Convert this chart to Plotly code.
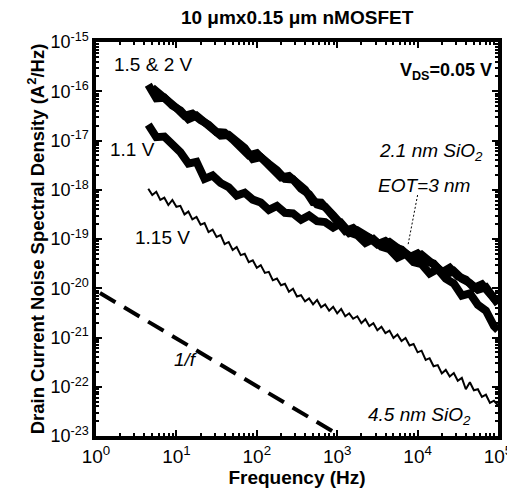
import plotly.graph_objects as go

# ---------------- data ----------------
freq_a = [4.47, 5.62, 7.08, 8.91, 11.2, 14.1, 17.8, 22.4, 28.2, 35.5, 44.7, 56.2, 70.8, 89.1,
          112, 141, 178, 224, 282, 355, 447, 562, 708, 891, 1120, 1410, 1780, 2240, 2820,
          3550, 4470, 5620, 7080, 8910, 11200, 14100, 17800, 22400, 28200, 35500, 44700,
          56200, 70800, 89100, 100000]
freq_b = [5.01, 6.31, 7.94, 10, 12.6, 15.8, 20, 25.1, 31.6, 39.8, 50.1, 63.1, 79.4, 100,
          126, 158, 200, 251, 316, 398, 501, 631, 794, 1000, 1260, 1580, 2000, 2510, 3160,
          3980, 5010, 6310, 7940, 10000, 12600, 15800, 20000, 25100, 31600, 39800, 50100,
          63100, 79400, 100000]
freq_fine = [4.47, 5.01, 5.62, 6.31, 7.08, 7.94, 8.91, 10, 11.2, 12.6, 14.1, 15.8, 17.8, 20,
             22.4, 25.1, 28.2, 31.6, 35.5, 39.8, 44.7, 50.1, 56.2, 63.1, 70.8, 79.4, 89.1, 100,
             112, 126, 141, 158, 178, 200, 224, 251, 282, 316, 355, 398, 447, 501, 562, 631,
             708, 794, 891, 1000, 1120, 1260, 1410, 1580, 1780, 2000, 2240, 2510, 2820, 3160,
             3550, 3980, 4470, 5010, 5620, 6310, 7080, 7940, 8910, 10000, 11200, 12600, 14100,
             15800, 17800, 20000, 22400, 25100, 28200, 31600, 35500, 39800, 44700, 50100,
             56200, 63100, 70800, 79400, 89100, 100000]

# 2.1 nm SiO2 (EOT = 3 nm), VG = 1.5 V
psd_15v = [1.35e-16, 7.2e-17, 7.4e-17, 5.1e-17, 4.1e-17, 2.7e-17, 3.2e-17, 2.3e-17, 1.7e-17,
           1.26e-17, 1.3e-17, 9.6e-18, 7.0e-18, 4.2e-18, 4.6e-18, 3.35e-18, 2.5e-18, 1.66e-18,
           1.62e-18, 1.05e-18, 8.1e-19, 5.0e-19, 4.5e-19, 3.05e-19, 2.1e-19, 1.32e-19, 1.5e-19,
           1.13e-19, 9.5e-20, 7.4e-20, 8.7e-20, 6.6e-20, 5.2e-20, 4.0e-20, 4.8e-20, 3.5e-20,
           2.8e-20, 1.9e-20, 2.24e-20, 1.56e-20, 1.28e-20, 9.3e-21, 1.05e-20, 6.2e-21, 4.8e-21]
# VG = 2 V
psd_2v = [1.17e-16, 8.7e-17, 6.2e-17, 4.6e-17, 3.16e-17, 3.5e-17, 2.6e-17, 2.1e-17, 1.48e-17,
          1.45e-17, 1.05e-17, 7.5e-18, 5.0e-18, 5.5e-18, 3.8e-18, 2.9e-18, 1.78e-18, 1.9e-18,
          1.35e-18, 1.0e-18, 5.6e-19, 5.5e-19, 3.6e-19, 2.4e-19, 1.45e-19, 1.66e-19, 1.2e-19,
          1.06e-19, 7.8e-20, 9.1e-20, 6.9e-20, 6.1e-20, 4.3e-20, 5.1e-20, 3.6e-20, 3.2e-20,
          2.1e-20, 2.6e-20, 1.75e-20, 1.5e-20, 1.02e-20, 1.2e-20, 7.6e-21, 5.0e-21]
# VG = 1.1 V
psd_11v = [2.1e-17, 1.17e-17, 1.2e-17, 8.3e-18, 5.8e-18, 3.4e-18, 3.7e-18, 1.66e-18, 1.95e-18,
           1.37e-18, 1.12e-18, 7.6e-19, 8.7e-19, 6.3e-19, 5.5e-19, 3.9e-19, 4.7e-19, 3.4e-19,
           3.3e-19, 2.45e-19, 3.0e-19, 2.3e-19, 2.2e-19, 1.7e-19, 2.1e-19, 1.37e-19, 1.2e-19,
           8.3e-20, 1.0e-19, 7.0e-20, 6.2e-20, 4.2e-20, 5.0e-20, 3.4e-20, 3.1e-20, 2.0e-20,
           2.45e-20, 1.56e-20, 1.25e-20, 7.1e-21, 7.9e-21, 4.6e-21, 3.5e-21, 1.7e-21, 1.4e-21]
# 4.5 nm SiO2, VG = 1.15 V
psd_115v = [1.05e-18, 7.8e-19, 9.1e-19, 6.2e-19, 6.9e-19, 4.9e-19, 6.2e-19, 4.5e-19, 4.7e-19,
            3.16e-19, 3.6e-19, 2.5e-19, 2.8e-19, 1.95e-19, 2.1e-19, 1.38e-19, 1.55e-19, 1.1e-19,
            1.2e-19, 7.9e-20, 8.7e-20, 6.0e-20, 6.9e-20, 4.7e-20, 5.0e-20, 3.4e-20, 3.7e-20,
            2.6e-20, 2.95e-20, 2.05e-20, 2.15e-20, 1.45e-20, 1.58e-20, 1.15e-20, 1.23e-20,
            8.5e-21, 9.8e-21, 6.8e-21, 7.2e-21, 5.4e-21, 6.2e-21, 4.7e-21, 5.8e-21, 4.1e-21,
            4.7e-21, 3.5e-21, 4.2e-21, 3.1e-21, 3.8e-21, 2.7e-21, 3.1e-21, 2.4e-21, 2.7e-21,
            1.95e-21, 2.35e-21, 1.7e-21, 1.95e-21, 1.41e-21, 1.66e-21, 1.23e-21, 1.38e-21,
            9.8e-22, 1.15e-21, 8.5e-22, 9.8e-22, 6.9e-22, 7.4e-22, 5.0e-22, 5.4e-22, 3.5e-22,
            3.8e-22, 2.6e-22, 2.75e-22, 1.86e-22, 2.2e-22, 1.62e-22, 1.9e-22, 1.32e-22, 1.51e-22,
            8.9e-23, 1.23e-22, 8.5e-23, 8.9e-23, 6.2e-23, 6.9e-23, 4.7e-23, 5.2e-23, 4.2e-23]

# 1/f reference line
ref_freq = [1.12, 1000]
ref_psd = [8.0e-21, 1.1e-23]

# leader line from "EOT=3 nm" to the curves
leader_freq = [1.0e4, 7.6e3]
leader_psd = [7.8e-19, 7.6e-20]

x_tick_exp = [0, 1, 2, 3, 4, 5]
y_tick_exp = [-23, -22, -21, -20, -19, -18, -17, -16, -15]

# ---------------- figure ----------------
FONT = "Liberation Sans, Arial, sans-serif"
fig = go.Figure()

for fx, sy in [(freq_a, psd_15v), (freq_b, psd_2v), (freq_a, psd_11v)]:
    fig.add_trace(go.Scatter(x=fx, y=sy, mode="lines",
                             line=dict(color="black", width=8), showlegend=False))
fig.add_trace(go.Scatter(x=freq_fine, y=psd_115v, mode="lines",
                         line=dict(color="black", width=2), showlegend=False))
fig.add_trace(go.Scatter(x=ref_freq, y=ref_psd, mode="lines",
                         line=dict(color="black", width=4, dash="18px,10px"), showlegend=False))
fig.add_trace(go.Scatter(x=leader_freq, y=leader_psd, mode="lines",
                         line=dict(color="black", width=1, dash="2px,2px"), showlegend=False))

minor_x = [m * 10 ** e for e in range(0, 5) for m in range(2, 10)]
minor_y = [m * 10.0 ** e for e in range(-23, -15) for m in range(2, 10)]

fig.update_xaxes(
    type="log", range=[0, 5], automargin=False,
    tickmode="array", tickvals=[10 ** e for e in x_tick_exp],
    ticktext=[f"10<sup>{e}</sup>" for e in x_tick_exp],
    ticks="inside", ticklen=6, tickwidth=1.5, tickcolor="black",
    ticklabeloverflow="allow",
    minor=dict(tickmode="array", tickvals=minor_x, ticks="inside", ticklen=3,
               tickcolor="black", showgrid=False),
    showline=True, linewidth=3.5, linecolor="black", mirror="ticks",
    showgrid=False, zeroline=False,
    tickfont=dict(family=FONT, size=19, color="black"),
    title=dict(text="<b>Frequency (Hz)</b>", font=dict(family=FONT, size=19, color="black"),
               standoff=4),
)
fig.update_yaxes(
    type="log", range=[-23, -15], automargin=False,
    tickmode="array", tickvals=[10.0 ** e for e in y_tick_exp],
    ticktext=[f"10<sup>{e}</sup>" for e in y_tick_exp],
    ticks="inside", ticklen=6, tickwidth=1.5, tickcolor="black",
    ticklabeloverflow="allow",
    minor=dict(tickmode="array", tickvals=minor_y, ticks="inside", ticklen=3,
               tickcolor="black", showgrid=False),
    showline=True, linewidth=3.5, linecolor="black", mirror="ticks",
    showgrid=False, zeroline=False,
    tickfont=dict(family=FONT, size=18, color="black"),
    title=dict(text="<b>Drain Current Noise Spectral Density (A<sup>2</sup>/Hz)</b>",
               font=dict(family=FONT, size=18.5, color="black"), standoff=2),
)

def ann(text, x, y, xanchor="left", size=18):
    fig.add_annotation(text=text, x=x, y=y, xref="paper", yref="paper",
                       xanchor=xanchor, yanchor="middle", showarrow=False,
                       font=dict(family=FONT, size=size, color="black"))

ann("1.5 &amp; 2 V", 0.040, 0.942, size=19)
ann("1.1 V", 0.030, 0.726, size=19)
ann("1.15 V", 0.092, 0.505, size=19)
ann("<b>V<sub>DS</sub>=0.05 V</b>", 0.990, 0.925, xanchor="right")
ann("<i>2.1 nm SiO<sub>2</sub></i>", 0.699, 0.721, size=19)
ann("<i>EOT=3 nm</i>", 0.697, 0.637, size=19)
ann("<i>1/f</i>", 0.189, 0.193, size=19)
ann("<i>4.5 nm SiO<sub>2</sub></i>", 0.672, 0.052, size=19)

fig.update_layout(
    width=507, height=496,
    margin=dict(l=96, r=9, t=42, b=60),
    paper_bgcolor="white", plot_bgcolor="white",
    title=dict(text="<b>10 \u03bcmx0.15 \u03bcm nMOSFET</b>", x=0.586, xanchor="center",
               y=0.966, yanchor="middle", font=dict(family=FONT, size=19, color="black")),
)

fig.write_html("out.html")
